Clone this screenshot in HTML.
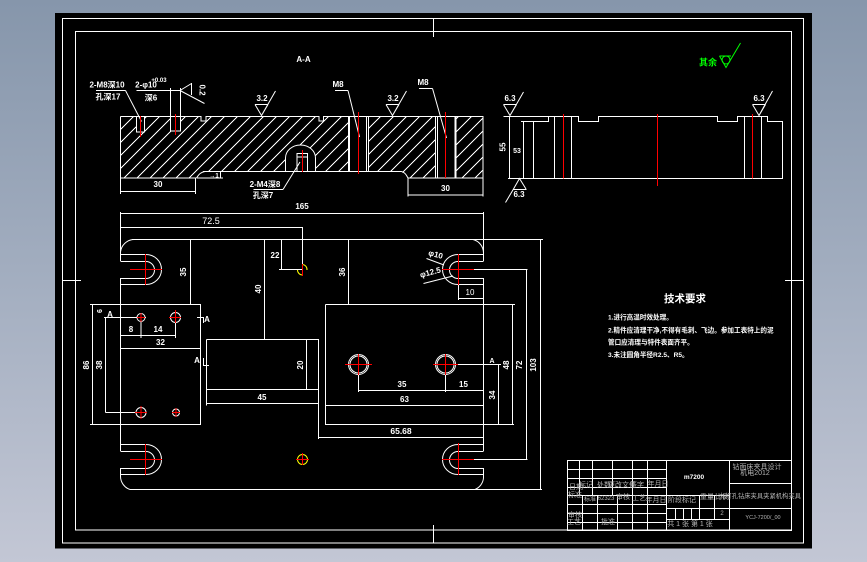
<!DOCTYPE html>
<html><head><meta charset="utf-8">
<style>
html,body{margin:0;padding:0;background:#a3aec0;width:867px;height:562px;overflow:hidden}
svg{display:block}
text{font-family:"Liberation Sans","Noto Sans CJK SC",sans-serif;fill:#fff;text-anchor:middle;font-weight:bold;font-size:8px}
.g{fill:#b4b4b4;font-size:7px;font-weight:normal}
.l{text-anchor:start;font-size:6.6px}
</style></head><body>
<svg width="867" height="562" viewBox="0 0 867 562" xmlns="http://www.w3.org/2000/svg">
<defs>
<linearGradient id="bg" x1="0" y1="0" x2="0" y2="1"><stop offset="0" stop-color="#8696ab"/><stop offset="0.5" stop-color="#a3aec0"/><stop offset="1" stop-color="#c3c7d5"/></linearGradient>
<pattern id="h" width="13" height="13" patternUnits="userSpaceOnUse" patternTransform="translate(3 0)"><path d="M-1 14L14 -1M-14 14L1 -1M12 14L27 -1" stroke="#fff" stroke-width="1" fill="none" shape-rendering="crispEdges"/></pattern>
</defs>
<rect width="867" height="562" fill="url(#bg)"/>
<rect x="55" y="13" width="757" height="535.5" fill="#000"/>
<!-- hatch -->
<path fill="url(#h)" d="M120.5 116.5H201V121H206V116.5H319V121H323.5V116.5H348.5V171.5H205L197 178H120.5Z"/>
<path fill="url(#h)" d="M368.5 116.5H436V178H408L401.5 171.5H368.5Z"/>
<path fill="url(#h)" d="M455.5 116.5H483V178H455.5Z"/>
<g fill="#000"><rect x="136.5" y="116" width="8" height="16"/><rect x="170.5" y="116" width="10" height="15"/><path d="M285.3 171V158A15.2 13 0 0 1 315.7 158V171Z"/></g>
<g fill="none" stroke="#fff" stroke-width="1" shape-rendering="crispEdges">
<!-- frames -->
<rect x="62.5" y="18.5" width="741" height="524.5"/>
<rect x="75.5" y="31.5" width="716" height="498.5"/>
<path d="M62 280.5H81M785 280.5H804M433.5 18V37M433.5 525V543"/>
<!-- section -->
<path d="M120.5 116.5H201V121H206V116.5H319V121H323.5V116.5H483V178H408M120.5 116.5V178H196.5M401.5 171.5H205M203 171.5H220.5V178M197 178H223"/>
<path d="M136.5 116.5V132H144.5V116.5M170.5 88V131H180.5V88"/>
<path d="M366.5 116V171.5M368.5 116V171.5M435.5 116V178M437.5 116V178"/>
<path d="M348.5 116V171.5M349.5 116V171.5M455 116V178M456 116V178"/>
<path d="M285.5 171V158M315.5 171V158M297 171V153.5H307.5V171M297 157H307.5"/>
<!-- section dims -->
<path d="M120.5 178V194M195.5 178V194M120.5 191.5H195.5M408 178V196.5M483 178V196.5M408 195H483"/>
<path d="M96 90.5H125.5M136.5 90.5H180M191.5 83V95M335 90.5H348M419 88.5H432.5M253.5 189.5H283"/>
<!-- side view -->
<path d="M503.5 116.5H578.5V121.5H598.5V116.5H717.5V121.5H737.5V116.5H767.5V121.5H782.5V178.5H508"/>
<path d="M509.5 116V178.5M521 121.5H548.5V116.5M523.5 121.5V178.5M533.5 121.5V178.5M554.5 116.5V178.5M571.5 116.5V178.5M744.5 116.5V178.5M761.5 116.5V178.5"/>
<path d="M503.5 104.5H516.5M752.5 104.5H765.5M513.5 189.5H526.5M255 104.5H268M386 104.5H399"/>
<!-- plate outline -->
<path d="M120.5 212V261M120.5 278V451M120.5 468V476M130 489.5H475M483.5 212V261M483.5 278V451M483.5 468V478M132 239.5H543M120.5 213.5H483.5M120.5 227.5H302.5V275M281.5 239.5V269.5H279M279 269.5H302"/>
<!-- slots straight -->
<path d="M120.5 254.5H146M120.5 261.5H146M120.5 278.5H146M120.5 284.5H146M120.5 444.5H146M120.5 451.5H146M120.5 468.5H146M120.5 474.5H146"/>
<path d="M458 254.5H483.5M458 261.5H483.5M458 278.5H483.5M458 284.5H483.5M458 444.5H483.5M458 451.5H483.5M458 468.5H483.5M458 474.5H483.5"/>
<path d="M474 269.5H527.5M474 459.5H527.5M526.5 269.5V459.5M540.5 239.5V489.5M532 489.5H475M483 489.5H542"/>
<!-- dims -->
<path d="M190.5 239.5V304.5M264.5 239.5V339.5M348.5 239.5V304.5"/>
<!-- left block -->
<path d="M90 304.5H200.5V424.5H90M92.5 304.5V424.5M105.5 317.5V412.5M104 317.5H146M105.5 412.5H137M120.5 335.5H175.5M141 317V338M175.5 317V338M120.5 348.5H200.5"/>
<path d="M197 317.5H203.5V323M203.5 358V365.5H209"/>
<!-- mid block -->
<path d="M206.5 339.5H318.5V439M206.5 339.5V405.5M206.5 389.5H318.5M206.5 403.5H318.5M306.5 339.5V389.5M318.5 437.5H483.5"/>
<!-- right block -->
<path d="M325.5 304.5H515M325.5 304.5V424.5H514M512.5 304.5V424.5M498.5 364.5V424.5M456 364.5H501M358.5 372V392M445.5 372V392M358.5 390.5H483.5M325.5 405.5H483.5M458.5 285V300M458 298.5H483.5"/>
<!-- title block -->
<rect x="567.5" y="460.5" width="224" height="70"/>
<path d="M579.5 460.5V495.5M592.5 460.5V495.5M612.5 460.5V495.5M632.5 460.5V495.5M647.5 460.5V495.5M666.5 460.5V530M567.5 469.5H666.5M567.5 478.5H666.5M567.5 487.5H666.5M567.5 495.5H729.5"/>
<path d="M582.5 495.5V530M597.5 495.5V530M617.5 495.5V530M632.5 495.5V530M647.5 495.5V530M567.5 504.5H666.5M567.5 513.5H666.5M567.5 522.5H666.5"/>
<path d="M729.5 460.5V530M729.5 483.5H791M729.5 508.5H791M699.5 495.5V519.5M714.5 495.5V519.5M666.5 508.5H729.5M666.5 519.5H729.5M675.5 508.5V519.5M683.5 508.5V519.5M691.5 508.5V519.5"/>
</g>
<!-- curved / diagonal -->
<g fill="none" stroke="#fff" stroke-width="1">
<path d="M196.5 178Q200 172 205 171.5M408 178Q405 172 401.5 171.5"/>
<path d="M285.5 158A15 13 0 0 1 315.5 158"/>
<path d="M125.5 90.5L141.5 121.5M180 90.5L191.5 83.5M180 90.5L204.5 103.5M348 90.5L359.5 137M432.5 88.5L446.5 138M283 189.5L300 162"/>
<path d="M255 104.5L261.5 115.5L268 104.5M261.5 115.5L275.5 91M386 104.5L392.5 115.5L399 104.5M392.5 115.5L406.5 91"/>
<path d="M503.5 104.5L510 115.5L516.5 104.5M510 115.5L523.5 92M752.5 104.5L759 115.5L765.5 104.5M759 115.5L772.5 91M513.5 189L519.5 178.5L526 189M513.5 189L505.5 202.5"/>
<path d="M120.5 252A14 14 0 0 1 134 239.5M120.5 476A14 14 0 0 0 130 489.5M483.5 478A14 14 0 0 1 475 489.5M473 239.5A14 14 0 0 1 483.5 253"/>
<path d="M146 254.5A15.5 15 0 0 1 146 284.5M146 261.5A8.5 8.5 0 0 1 146 278.5M146 444.5A15.5 15 0 0 1 146 474.5M146 451.5A8.5 8.5 0 0 1 146 468.5"/>
<path d="M458 254.5A15.5 15 0 0 0 458 284.5M458 261.5A8.5 8.5 0 0 0 458 278.5M458 444.5A15.5 15 0 0 0 458 474.5M458 451.5A8.5 8.5 0 0 0 458 468.5"/>
<path d="M426.5 258.5L444 265M423.5 283.5L453 276"/>
<circle cx="141" cy="317.5" r="4"/><circle cx="175.5" cy="317.5" r="5"/><circle cx="141" cy="412.5" r="5"/><circle cx="176" cy="412.5" r="3.5"/>
<circle cx="358.5" cy="364.5" r="10"/><circle cx="358.5" cy="364.5" r="8.5"/><circle cx="445.5" cy="364.5" r="10"/><circle cx="445.5" cy="364.5" r="8.5"/>
</g>
<!-- yellow holes -->
<g fill="none" stroke="#ff0" stroke-width="1"><path d="M302.5 264.5A5 5 0 0 1 307 270M297.5 270A5 5 0 0 0 302.5 275"/><circle cx="302.5" cy="459.5" r="5"/></g>
<!-- red -->
<g fill="none" stroke="#f00" stroke-width="1" shape-rendering="crispEdges">
<path d="M140.5 116V137M175.5 114V135M302.5 150V172M358.5 112V174M445.5 112V178"/>
<path d="M563.5 114V178.5M657.5 114V186M752.5 114V178.5"/>
<path d="M145.5 254V285M130 269.5H162M145.5 444V475M130 459.5H162"/>
<path d="M458.5 254V285M442 269.5H474M458.5 443V475M442 459.5H474"/>
<path d="M302.5 264V276M302.5 453V465M296 459.5H309"/>
<path d="M141 313V322M137 317.5H145M175.5 310V323M169 317.5H181M141 406V419M135 412.5H147M176 408V417M172 412.5H180"/>
<path d="M358.5 354V375M345 364.5H372M445.5 354V375M433 364.5H458"/>
</g>
<!-- green -->
<g fill="none" stroke="#0f0" stroke-width="1"><path d="M719.5 56L726 67.5L740.5 43M719.5 56H731"/><circle cx="726" cy="60" r="4"/></g>
<text x="708" y="65.5" style="fill:#0f0;font-size:9px">其余</text>
<!-- labels -->
<text x="303.5" y="62" font-size="9">A-A</text>
<text x="107" y="87.5">2-M8深10</text><text x="108" y="99.5">孔深17</text>
<text x="146" y="87.5">2-φ10</text><text x="159" y="82" style="font-size:6px">+0.03</text><text x="151" y="100.5">深6</text>
<text transform="translate(199.5 90) rotate(90)">0.2</text>
<text x="262" y="101">3.2</text><text x="393" y="101">3.2</text>
<text x="338" y="87">M8</text><text x="423" y="85">M8</text>
<text x="158" y="187">30</text><text x="445.5" y="191">30</text>
<text x="214" y="177.5" style="font-size:6px">→1</text>
<text x="265" y="187">2-M4深8</text><text x="263" y="198">孔深7</text>
<text x="302" y="209">165</text>
<text x="510" y="101">6.3</text><text x="759" y="101">6.3</text><text x="519" y="197">6.3</text>
<text transform="translate(505.5 147) rotate(-90)">55</text><text x="517" y="153" style="font-size:7px">53</text>
<text x="211" y="224" style="font-size:9px;font-weight:normal">72.5</text>
<text transform="translate(186 272) rotate(-90)">35</text><text transform="translate(345 272) rotate(-90)">36</text>
<text transform="translate(261 289) rotate(-90)">40</text><text x="275" y="258">22</text>
<text transform="translate(102 311) rotate(-90)" style="font-size:7px">6</text>
<text x="110" y="317">A</text><text x="207" y="322">A</text><text x="197" y="363">A</text>
<text x="131" y="332">8</text><text x="158" y="332">14</text><text x="160.5" y="345">32</text>
<text transform="translate(89 365) rotate(-90)">86</text><text transform="translate(102 365) rotate(-90)">38</text>
<text transform="translate(303 365) rotate(-90)">20</text><text x="262" y="400">45</text>
<text x="401" y="434" style="font-size:8.5px">65.68</text>
<text x="402" y="387">35</text><text x="463.5" y="387">15</text><text x="404.5" y="402">63</text>
<text transform="translate(495 395) rotate(-90)">34</text>
<text transform="translate(509 365) rotate(-90)">48</text><text transform="translate(522 365) rotate(-90)">72</text><text transform="translate(536 365) rotate(-90)">103</text>
<text x="492" y="363" style="font-size:7px">A</text>
<text x="470" y="295" style="font-weight:normal">10</text>
<text transform="translate(435 257) rotate(15)">φ10</text>
<text transform="translate(431 275) rotate(-15)">φ12.5</text>
<!-- tech requirements -->
<text x="685" y="302" style="font-size:10.5px">技术要求</text>
<text class="l" x="608" y="319.5">1.进行高温时效处理。</text>
<text class="l" x="608" y="332.5">2.精件应清理干净,不得有毛刺、飞边。参加工表特上的泥</text>
<text class="l" x="608" y="344.5">管口应清理与特件表面齐平。</text>
<text class="l" x="608" y="357">3.未注圆角半径R2.5、R5。</text>
<!-- title block text -->
<text x="694" y="479" style="font-size:6.5px">m7200</text>
<text class="g" x="757" y="469">钻面床夹具设计</text><text class="g" x="755" y="475">机电2012</text>
<text class="g" x="760" y="498" style="font-size:6.3px">丸打孔钻床夹具夹紧机构夹具</text>
<text class="g" x="763" y="519" style="font-size:5.5px">YCJ-7200/_00</text>
<text class="g" x="576" y="489">日期</text><text class="g" x="586" y="487">标记</text><text class="g" x="604" y="487">处数</text><text class="g" x="622" y="487">更改文件</text><text class="g" x="637" y="487">签字</text><text class="g" x="658" y="486">年月日</text>
<text class="g" x="575" y="497">标准</text><text class="g" x="590" y="501" style="font-size:6px">标准</text><text class="g" x="606" y="500" style="font-size:6px">62323</text><text class="g" x="623" y="499">审核</text><text class="g" x="639" y="500">工艺</text><text class="g" x="656" y="502">年月日</text>
<text class="g" x="575" y="517">审核</text><text class="g" x="574" y="524">工艺</text><text class="g" x="608" y="524">批准</text>
<text class="g" x="682" y="502">阶段标记</text><text class="g" x="707" y="499">重量</text><text class="g" x="722" y="499">比例</text><text class="g" x="722" y="515" style="font-size:6px">2</text>
<text class="g" x="690" y="526">共 1 张 第 1 张</text>
</svg>
</body></html>
